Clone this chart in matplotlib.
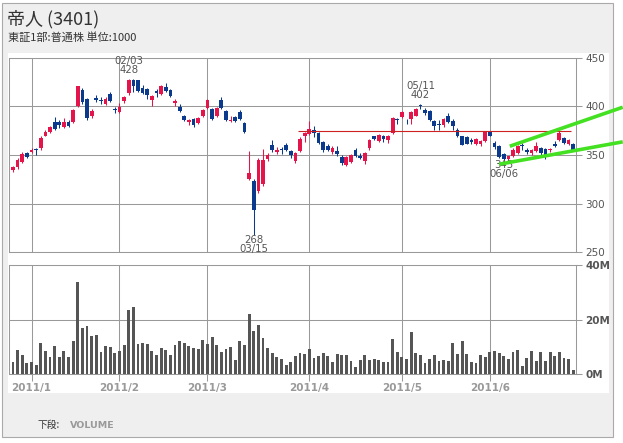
import numpy as np
import matplotlib.pyplot as plt
from matplotlib.patches import Rectangle

W, H = 623, 443

# daily OHLC, 2010/12/27 .. 2011/6/27 (trading days)
opens = [335, 338, 343, 352, 353, 356, 357, 370, 374, 384,
         384, 379, 384, 384, 400, 417, 407, 390, 408, 405.5,
         402, 413, 396.5, 394, 405, 414, 427, 427, 419, 418,
         406, 416, 413, 420, 417, 403.5, 399, 390, 384, 387,
         383, 390, 398, 397, 390, 406, 395, 384.5, 389, 394,
         383, 325, 323, 313, 320, 346, 360, 353, 355.5, 360,
         354, 343.5, 354, 370, 372, 376, 373, 363, 359, 353,
         354, 348, 340, 342.5, 355, 349, 343.5, 357, 369, 364,
         369, 365, 372.5, 387, 389, 386, 387, 390.5, 401, 396.5,
         395.5, 384.5, 382, 381, 390, 385, 376, 369, 368, 365.5,
         361.5, 361.5, 364, 374, 362, 359, 351, 345.5, 349, 352,
         360, 355, 352, 354, 357, 356, 355, 361.5, 365, 367,
         361.5, 361.5]
highs = [339, 347, 353, 353, 357, 357, 369, 376, 380, 389,
         386, 388, 386, 397, 421, 419, 408, 397, 412, 409,
         409, 415, 399, 403, 411, 428, 428, 427, 422, 419,
         412, 418, 422, 424, 418, 407, 402, 391, 387, 388,
         389, 397, 407, 398, 399, 410, 396, 390, 390, 396,
         384, 354, 325, 347, 356, 352, 365, 358, 358, 362,
         355, 353, 368, 374, 385, 380, 374, 364, 361, 359,
         359, 350, 349, 351, 357, 352, 353, 366, 370, 372,
         371, 371, 389, 388, 395, 387, 395, 398, 402, 398,
         396, 386, 386, 388, 393, 387, 378, 370, 369, 367,
         367, 365, 375, 375, 364, 360, 352, 349, 357, 360,
         362, 357, 356, 363, 358, 357, 357, 364, 375, 368,
         366, 362]
lows = [333, 336, 342, 347, 352, 350, 355, 369, 373, 376,
        378, 378, 379, 383, 399, 402, 386, 388, 404, 402,
        401, 404, 393, 393, 403, 412, 415, 415, 413, 407,
        400, 410, 412, 415, 410, 400, 394, 385, 381, 379,
        382, 389, 397, 386, 389, 397, 385, 384, 384, 386,
        373, 324, 268, 311, 318, 344, 353, 351, 351, 354,
        347, 342, 353, 363, 371, 368, 361, 353, 354, 351,
        349, 340, 339, 342, 348, 346, 341, 355, 365, 363,
        363, 362, 372, 382, 388, 382, 382, 390, 397, 391,
        385, 376, 376, 379, 383, 376, 368, 360, 361, 361,
        360, 359.5, 363, 369, 356, 347, 345, 345, 348, 351,
        355, 351, 350, 353, 348, 346, 353, 358, 364, 361,
        360, 354]
closes = [338, 345, 351, 348, 355, 355, 367, 374, 379, 377,
          381, 384, 380, 396, 421, 404, 388, 395, 406, 405,
          407, 405, 396, 399, 410, 427, 421, 416, 414, 412,
          411, 414, 421, 416, 411, 405, 395, 386, 385.5, 381,
          388, 396.5, 406, 387, 398, 398, 386, 385, 385, 387,
          374, 332, 294, 345, 345, 350, 355.5, 355.5, 355, 355,
          350.5, 352, 366, 373, 377, 372.5, 362, 355, 355.5, 357,
          351.5, 342, 348, 350, 348.5, 347, 352, 365, 366.5, 370,
          366, 369, 388, 386, 394, 385.5, 394, 397, 400, 393,
          386, 379.5, 381, 387, 383.5, 379.5, 369, 360.5, 361.5, 363,
          366, 364, 374, 370, 358, 348, 346, 348.5, 355.5, 359,
          359.5, 353, 355.5, 359.5, 352, 349, 356, 359.5, 373, 362,
          365, 355]
# volume in millions of shares
volume_m = [4.3, 8.8, 7.0, 4.1, 4.4, 3.3, 11.3, 8.4, 6.2, 10.2,
            6.2, 8.4, 6.2, 12.1, 33.8, 17.0, 17.6, 13.9, 14.3, 8.0,
            10.2, 9.9, 7.7, 8.4, 10.6, 23.4, 24.5, 11.0, 11.3, 11.0,
            8.4, 7.0, 9.5, 8.8, 7.0, 10.6, 12.1, 11.3, 10.2, 9.5,
            9.1, 12.4, 11.0, 13.5, 10.6, 8.0, 9.1, 9.9, 5.1, 12.1,
            10.6, 22.0, 15.7, 17.9, 13.2, 9.5, 7.7, 6.2, 5.5, 3.3,
            4.4, 6.6, 7.6, 7.2, 9.1, 5.9, 6.6, 7.7, 6.6, 4.4,
            7.3, 7.0, 7.0, 4.8, 2.6, 5.1, 7.0, 5.1, 5.5, 5.1,
            4.4, 4.4, 12.8, 8.0, 6.2, 5.5, 15.4, 7.7, 7.0, 4.0,
            5.5, 7.0, 4.8, 5.1, 4.8, 11.3, 7.3, 12.1, 7.3, 4.4,
            4.0, 7.0, 6.2, 8.0, 8.4, 7.7, 6.6, 5.5, 8.0, 8.8,
            2.9, 5.9, 8.4, 4.8, 8.0, 4.8, 8.0, 6.6, 8.0, 5.9,
            5.5, 1.5]

month_pos = [4, 23, 42, 64, 84, 103]
month_labels = ['2011/1', '2011/2', '2011/3', '2011/4', '2011/5', '2011/6']
price_ticks = [250, 300, 350, 400, 450]
vol_ticks = [0, 20, 40]
vol_labels = ['0M', '20M', '40M']

# marked extremes: (bar index, 'high'/'low', date text)
marks = [(25, 'high', '02/03'), (52, 'low', '03/15'),
         (88, 'high', '05/11'), (106, 'low', '06/06')]

# hand drawn lines
resist_level = 375
resist_x = [61.5, 120.5]
upper_x = [107.3, 131.7]
upper_y = [359, 399]
lower_x = [105, 131.7]
lower_y = [340.5, 363.5]

RED = '#e3154a'
BLUE = '#0b3a8c'
GRID = '#999999'
CJK = ['Noto Sans CJK JP', 'DejaVu Sans']


def fx(x):
    return x / W


def fy(y):
    return 1 - y / H


fig = plt.figure(figsize=(W / 100, H / 100), dpi=100, facecolor='white')

# outer gray box and white chart panel
fig.add_artist(Rectangle((fx(2), fy(437)), 611 / W, 434 / H, transform=fig.transFigure,
                         facecolor='#efefef', edgecolor='#aaaaaa', lw=0.8, zorder=0))
fig.add_artist(Rectangle((fx(8), fy(393)), 601 / W, 340 / H, transform=fig.transFigure,
                         facecolor='white', edgecolor='none', zorder=0))

fig.text(fx(7), fy(19), '帝人 (3401)', fontsize=13, va='center', color='#333333', family=CJK)
fig.text(fx(8), fy(37), '東証1部:普通株 単位:1000', fontsize=8, va='center', color='#333333', family=CJK)
fig.text(fx(38), fy(425), '下段:', fontsize=7, va='center', color='#333333', family=CJK)
fig.text(fx(70), fy(425), 'VOLUME', fontsize=6.8, va='center', color='#999999', fontweight='bold')

ax = fig.add_axes([fx(9), fy(252.5), 567 / W, 195 / H])
axv = fig.add_axes([fx(9), fy(374), 567 / W, 109 / H])

n = len(opens)
x = np.arange(n)
o = np.array(opens)
c = np.array(closes)
cols = [RED if cc >= oo else BLUE for oo, cc in zip(o, c)]

ax.vlines(x, lows, highs, colors=cols, lw=0.75, zorder=3)
ax.bar(x, np.maximum(np.abs(c - o), 0.9), bottom=np.minimum(o, c), width=0.8,
       color=cols, lw=0, zorder=3)

ax.hlines(resist_level, resist_x[0], resist_x[1], color='#cc2222', lw=0.8, zorder=4)

for i, kind, date in marks:
    if kind == 'high':
        val, off1, off2 = highs[i], 9, 18
    else:
        val, off1, off2 = lows[i], -5, -14.5
    ax.annotate(f'{val:.0f}', xy=(i, val), xytext=(0, off1), textcoords='offset pixels',
                ha='center', va='center', fontsize=7.3, color='#555555', zorder=5)
    ax.annotate(date, xy=(i, val), xytext=(0, off2), textcoords='offset pixels',
                ha='center', va='center', fontsize=7.3, color='#555555', zorder=5)

ax.plot(upper_x, upper_y, color='#44e022', lw=2.6, clip_on=False, zorder=10,
        solid_capstyle='butt')
ax.plot(lower_x, lower_y, color='#44e022', lw=2.6, clip_on=False, zorder=10,
        solid_capstyle='butt')

ax.set_xlim(-0.86, 121.6)
ax.set_ylim(250, 450)
ax.set_yticks(price_ticks)
ax.set_xticks(month_pos)
ax.yaxis.tick_right()
ax.tick_params(axis='y', length=4.5, width=0.75, color=GRID, labelcolor='#555555',
               labelsize=7.5, pad=2)
ax.tick_params(axis='x', length=0, labelbottom=False)
ax.grid(True, color=GRID, lw=0.75)
ax.set_axisbelow(True)

axv.bar(x, volume_m, width=0.62, color='#555555', lw=0, zorder=3)
axv.set_xlim(-0.86, 121.6)
axv.set_ylim(0, 40)
axv.set_yticks(vol_ticks)
axv.set_yticklabels(vol_labels)
axv.set_xticks(month_pos)
axv.set_xticklabels(month_labels)
axv.yaxis.tick_right()
axv.tick_params(axis='y', length=4.5, width=0.75, color=GRID, labelcolor='#555555',
                labelsize=7.5, pad=2)
for t in axv.get_yticklabels():
    t.set_fontweight('bold')
axv.tick_params(axis='x', length=5, width=0.75, color=GRID, labelcolor='#999999',
                labelsize=7.5, pad=1.5)
for t in axv.get_xticklabels():
    t.set_fontweight('bold')
axv.grid(True, color=GRID, lw=0.75)
axv.set_axisbelow(True)

for a in (ax, axv):
    a.set_facecolor('white')
    for s in a.spines.values():
        s.set_color(GRID)
        s.set_linewidth(0.75)

fig.savefig('out.png', dpi=100)
